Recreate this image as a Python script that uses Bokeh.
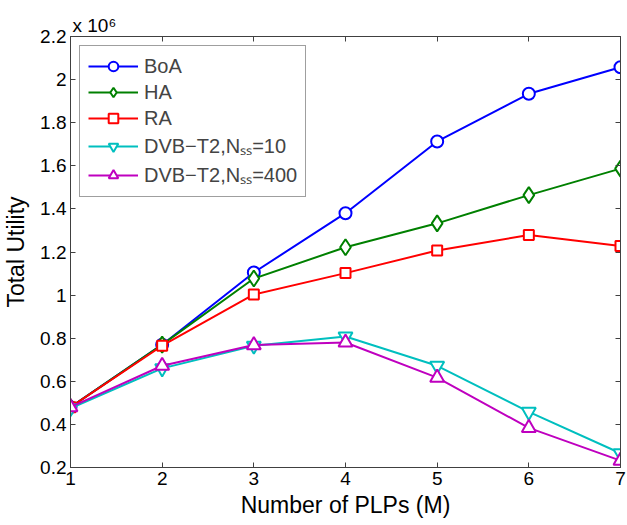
from bokeh.plotting import figure
from bokeh.models import (Range1d, FixedTicker, LinearAxis, Legend, LegendItem)
from bokeh.embed import file_html
from bokeh.resources import INLINE

# ---- data (values in units of 10^6) ----
plps = [1, 2, 3, 4, 5, 6, 7]
boa = [0.48, 0.77, 1.105, 1.38, 1.713, 1.934, 2.057]
ha = [0.48, 0.77, 1.077, 1.222, 1.333, 1.464, 1.587]
ra = [0.48, 0.765, 1.003, 1.102, 1.207, 1.279, 1.228]
dvb10 = [0.475, 0.66, 0.765, 0.808, 0.672, 0.458, 0.266]
dvb400 = [0.48, 0.672, 0.768, 0.78, 0.617, 0.384, 0.232]

series_names = ["BoA", "HA", "RA", "DVB\u2212T2,N\u209b\u209b=10", "DVB\u2212T2,N\u209b\u209b=400"]

x_ticks = [1, 2, 3, 4, 5, 6, 7]
y_ticks = [0.2, 0.4, 0.6, 0.8, 1.0, 1.2, 1.4, 1.6, 1.8, 2.0, 2.2]
y_tick_labels = ["0.2", "0.4", "0.6", "0.8", "1", "1.2", "1.4", "1.6", "1.8", "2", "2.2"]
scale_label = "x 10\u2076"

FONT = "Liberation Sans"
AXC = "#404040"

p = figure(width=627, height=525, output_backend="svg", toolbar_location=None,
           x_range=Range1d(1, 7), y_range=Range1d(0.2, 2.2),
           min_border_left=70, min_border_right=7, min_border_top=36, min_border_bottom=58)
p.grid.visible = False
p.outline_line_color = AXC
p.background_fill_color = "white"
p.border_fill_color = "white"

p.title.text = scale_label
p.title.align = "left"
p.title.offset = 2
p.title.standoff = 1
p.title.text_font = FONT
p.title.text_font_size = "19px"
p.title.text_font_style = "normal"
p.title.text_color = "black"

p.xaxis.ticker = FixedTicker(ticks=x_ticks)
p.yaxis.ticker = FixedTicker(ticks=y_ticks)
p.yaxis.major_label_overrides = {t: l for t, l in zip(y_ticks, y_tick_labels)}
p.xaxis.axis_label = "Number of PLPs (M)"
p.yaxis.axis_label = "Total Utility"

for ax in (p.xaxis[0], p.yaxis[0]):
    ax.major_tick_in = 5
    ax.major_tick_out = 0
    ax.minor_tick_in = 0
    ax.minor_tick_out = 0
    ax.axis_line_color = AXC
    ax.major_tick_line_color = AXC
    ax.major_label_text_font = FONT
    ax.major_label_text_font_size = "19px"
    ax.major_label_text_color = "black"
    ax.axis_label_text_font = FONT
    ax.axis_label_text_font_size = "23px"
    ax.axis_label_text_font_style = "normal"
    ax.axis_label_text_color = "black"
p.xaxis.major_label_standoff = 4
p.xaxis.axis_label_standoff = 4
p.yaxis.major_label_standoff = 4
p.yaxis.axis_label_standoff = 8

for loc in ("above", "right"):
    ticks = x_ticks if loc == "above" else y_ticks
    ax = LinearAxis(ticker=FixedTicker(ticks=ticks))
    ax.major_label_overrides = {t: "" for t in ticks}
    ax.major_tick_in = 5
    ax.major_tick_out = 0
    ax.minor_tick_in = 0
    ax.minor_tick_out = 0
    ax.major_label_standoff = 0
    ax.axis_line_color = AXC
    ax.major_tick_line_color = AXC
    p.add_layout(ax, loc)

specs = [
    (boa, "#0000ff", "circle", 12),
    (ha, "#008000", "diamond", 16),
    (ra, "#ff0000", "square", 10),
    (dvb10, "#00bfbf", "inverted_triangle", 14),
    (dvb400, "#bf00bf", "triangle", 14),
]

items = []
for (ys, color, marker, size), name in zip(specs, series_names):
    r1 = p.line(plps, ys, line_color=color, line_width=2)
    r2 = p.scatter(plps, ys, marker=marker, size=size, line_color=color,
                   line_width=2, fill_color="white")
    items.append(LegendItem(label=name, renderers=[r1, r2]))

legend = Legend(items=items, location="top_left")
legend.label_text_font = FONT
legend.label_text_font_size = "20px"
legend.glyph_width = 50
legend.glyph_height = 24
legend.label_height = 24
legend.label_standoff = 6
legend.spacing = 2
legend.padding = 8
legend.margin = 9
legend.border_line_color = AXC
legend.border_line_width = 1
legend.background_fill_alpha = 1
p.add_layout(legend)

open("out.html", "w").write(file_html(p, INLINE))
